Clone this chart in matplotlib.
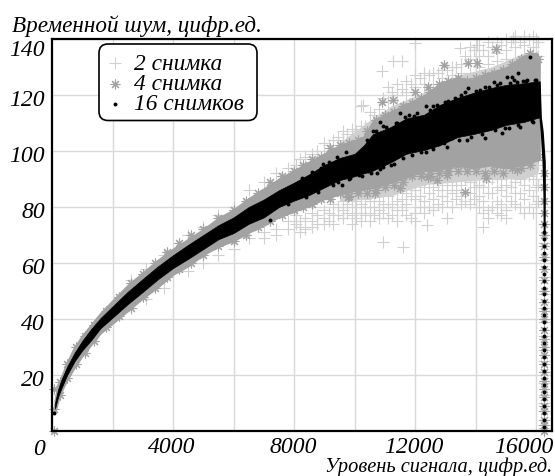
import matplotlib
matplotlib.use("Agg")
from matplotlib import pyplot as plt
from matplotlib.patches import FancyBboxPatch
from matplotlib.transforms import ScaledTranslation, IdentityTransform

plt.rcParams["font.family"] = ["Liberation Serif", "DejaVu Serif"]
plt.rcParams["font.style"] = "italic"

# values below. Where the marks merge into a solid
# band the band edges are stored, the loose marks around it are stored as points
band_x = [100, 200, 300, 500, 750, 1000, 1300, 1600, 2000, 2500, 3000, 3500, 4000, 4500, 5000, 5500, 6000,
          6500, 7000, 7500, 8000, 8500, 9000, 9500, 10000, 10300, 10600, 11200, 11700, 12300, 12800, 13400,
          13900, 14500, 15000, 15600, 16000, 16100]
black_high = [10, 14.8, 18, 23, 28, 32.2, 36.5, 40.3, 44.5, 49.7, 54.3, 58.8, 62.8, 66.5, 70, 73.5, 76.3,
              80, 82.7, 86, 88.7, 91.7, 95, 97.5, 99, 102, 106, 108.6, 111.6, 113, 116.4, 119,
              120.7, 122.5, 123.6, 124.2, 124.8, 124]
black_low = [8, 12.2, 15, 20, 25, 28.8, 32.5, 36.7, 40.5, 45.3, 49.7, 54.2, 58.2, 61.5, 65, 68.5, 70.7,
             74, 76.3, 80, 82.3, 84.3, 87, 89.6, 91, 92, 93, 96, 99, 100.4, 102, 105,
             106, 107.5, 109.3, 110.4, 111.7, 112]
gray_high = [11, 16, 19, 24.5, 30, 34, 38, 42, 46.5, 52, 56.5, 61, 65, 68.5, 72, 76, 79,
             83, 86.5, 90, 93, 96, 99, 102, 103.5, 105, 110.5, 114, 116.5, 119.7, 124, 126,
             125.4, 128, 129.7, 134, 135, 133]
gray_low = [7, 11, 14, 18.5, 23, 27, 31, 35, 38.5, 43, 47.5, 51.5, 56, 59, 63, 66, 68,
            71, 73.5, 76.5, 78.5, 80.5, 83, 84.6, 86, 86.5, 87, 88.9, 90.6, 93, 93.5, 94.9,
            94, 95, 94, 95.3, 96.7, 97]

light_x = [9500, 10500, 11200, 12300, 13400, 14500, 15600, 16050]
light_high = [103, 111, 116, 121, 127, 130, 135, 135]
light_low = [82, 83, 84, 88, 89, 90, 90, 92]

drop_y = [70, 84, 96, 107, 112, 118, 125]
drop_left = [16230, 16220, 16190, 16130, 16090, 16060, 16040]
drop_right = [16290, 16300, 16300, 16230, 16170, 16150, 16130]

plus_cols = [2600, 3100, 3700, 4500, 5000, 5500, 6000, 6500, 7000, 7400, 7800, 8200,
             8600, 9000, 9300, 9600, 9900, 10200, 10500, 10800, 11100, 11400, 11700, 12000, 12300, 12600,
             12900, 13200, 13500, 13800, 14100, 14400, 14700, 15000, 15300, 15600, 15900, 16050,
             8050, 8350, 8750, 9150, 9450, 9750, 10050, 10350, 10650, 10950, 11250, 11550, 11850, 12150, 12450,
             12750, 13050, 13350, 13650, 13950, 14250, 14550, 14850, 15150, 15450, 15750, 16000]
plus_vals = [[54, 44], [58, 47], [63, 51], [70, 57], [73, 60], [77, 63], [80, 65], [86, 69], [89, 71, 69],
             [92, 72, 70], [94, 75, 72],
             [97, 75, 73, 71], [99, 96, 78, 75, 73], [103, 100, 79, 76, 74], [104, 101, 81, 77, 74],
             [107, 104, 82, 79, 76], [108, 105, 83, 80, 77, 74], [109, 106, 116, 84, 81, 78, 75],
             [114, 110, 107, 85, 82, 78, 75], [115, 112, 109, 85, 82, 79, 76], [123, 118, 114, 87, 84, 80, 76],
             [124, 120, 116, 86, 82, 79, 75], [125, 121, 117, 88, 85, 81, 77], [127, 123, 119, 90, 86, 83, 78, 75],
             [128, 124, 120, 91, 87, 82, 78], [128, 124, 121, 90, 87, 83, 79], [129, 126, 122, 92, 88, 84, 80],
             [130, 127, 123, 91, 88, 85, 80], [131, 128, 125, 92, 88, 84, 81], [137, 133, 128, 92, 89, 85, 81],
             [138, 134, 130, 93, 88, 84, 80], [139, 134, 131, 92, 89, 85, 79, 76], [139, 135, 132, 91, 87, 82, 78],
             [140, 136, 133, 92, 88, 84, 79, 76], [141, 137, 133, 92, 89, 85, 81], [141, 138, 134, 93, 88, 83, 78],
             [141, 137, 133, 94, 90, 84, 78], [139, 134, 95, 88, 82],
             [95, 74, 77], [98, 76, 72], [100, 77, 74], [102, 78, 75], [105, 80, 77], [106, 81, 78],
             [107, 82, 78, 76], [109, 83, 80, 77], [113, 84, 80, 77], [119, 85, 81, 78], [121, 85, 81, 77],
             [122, 87, 83, 79], [124, 88, 84, 76], [126, 88, 84, 80], [127, 89, 85, 80],
             [128, 90, 86, 81], [129, 89, 86, 82], [130, 90, 86, 83], [134, 90, 85, 82], [136, 91, 87, 83],
             [136, 90, 87, 82, 78], [137, 90, 85, 80], [138, 90, 86, 81, 77], [139, 91, 87, 82],
             [139, 90, 85, 80], [140, 91, 86, 80], [140, 92, 87, 81]]
plus_out_x = [10930, 11610, 12380, 13040, 14250, 10890, 11280, 11560, 10290, 12000, 13480, 14040, 15240,
              16280, 16280, 16250, 16260, 16240, 16270, 16250, 16260, 16240, 16270, 16250, 16260, 16250,
              16240, 16260, 16250, 16270, 16250, 16260, 16240, 16250]
plus_out_y = [67.6, 65.8, 73.5, 76, 73, 128.7, 132, 132, 116.4, 138.5, 136.8, 138, 140.4,
              90, 82, 74, 67, 61, 55, 49, 44, 39, 34, 29, 25, 21, 17, 13, 10, 7, 4, 2, 1, 0]

star_cols = [250, 500, 800, 1100, 1400, 1800, 2200, 2600, 3000, 3400, 3800, 4200, 4600, 5000, 5500, 6000,
             6400, 6800, 7200, 7600, 8000, 8300, 8600,
             8900, 9200, 9500, 9800, 10100, 10400, 10700, 11000, 11300, 11600, 11900, 12200, 12500, 12800,
             13100, 13400, 13700, 14000, 14300, 14600, 14900, 15200, 15500, 15800, 16050]
star_vals = [[17.5, 13], [24, 19], [30, 24], [34, 28], [38, 32], [43, 37], [48, 41], [53, 44], [56, 48], [60, 51],
             [64, 55], [67, 58], [70, 60],
             [72, 63], [76, 66], [79, 68], [82, 70], [85, 73], [89, 75], [91, 77], [93, 79], [95, 80], [97, 81],
             [98, 83], [101, 83], [102, 85], [103, 86, 84], [104, 86, 85], [107, 87, 85], [111, 88, 86],
             [113, 89, 87], [114, 90, 88], [116, 91, 89], [117, 91], [119, 93, 91], [121, 93, 91], [124, 94, 92],
             [125, 94, 93], [126, 95, 93], [125, 95, 93], [126, 95, 93], [127, 96, 92], [128, 95, 93], [129, 95, 92],
             [131, 96, 94], [133, 96, 94], [135, 97, 95], [133, 98]]
star_out_x = [12950, 13750, 14030, 14660, 10890, 11260, 12430, 12000, 13650, 10670, 11500, 12430, 12710, 13040,
              14330, 15360, 9790, 60, 50, 50,
              16260, 16240, 16270, 16250, 16240, 16260, 16250, 16270, 16240, 16250, 16260, 16240, 16250, 16270,
              16240, 16260, 16250, 16240, 16260, 16250, 16270, 16250, 16240, 16260, 16250, 16240, 16260, 16250]
star_out_y = [130.7, 131.3, 131.4, 136.4, 117.6, 118.2, 122.9, 121.2, 85.5, 85, 86.8, 90.8, 89.6, 91.4,
              90.4, 93.2, 83.7, 15, 8, 0,
              92, 87, 82, 78, 74, 70, 66, 62, 58, 54, 50, 46, 43, 40, 36, 33, 30, 27, 24, 21, 18, 15, 12, 9, 7, 4, 2, 0]

dot_x = [15800, 15410, 15190, 15030, 14800, 14590, 14140, 13760, 12710, 12360, 11780, 11500, 10840,
         14310, 13700, 13210, 10730, 10950, 9850, 9570, 15470, 14970, 14860, 12950, 12200, 11200, 10450, 10150,
         9300, 8800, 8400, 7800, 7200, 9150, 8900, 8600, 8250, 15700, 15550, 15250, 14300, 13500, 13100, 12500,
         11950, 11400, 11050, 10600, 16000, 15900,
         8950, 9400, 9700, 10400, 10700, 10950, 11350, 11650, 12050, 12600, 13000, 13300, 13650,
         14000, 14450, 14700, 15120, 15350, 15650, 15950,
         9450, 9800, 10250, 10550, 10850, 11300, 11600, 11900, 12350, 12600, 13050,
         13450, 13850, 14200, 14650, 15100, 15400, 15850]
dot_y = [133.7, 127.7, 126.3, 126.3, 124.2, 124.5, 121.8, 122.4, 116.4, 116, 112.9, 113.5, 110.5,
         104.5, 104.1, 104.5, 92, 94.2, 90.2, 87.9, 108.7, 108.1, 106.3, 103, 99.5, 95, 93, 91.5,
         88, 85.5, 83.5, 81, 75.5, 96, 93.8, 92.5, 90.5, 125.5, 124.9, 125.2, 123, 120, 118, 114.5,
         112.5, 110, 108.5, 107, 125.5, 110.5,
         95.5, 98, 99.5, 104, 107, 109, 110, 112, 113.5, 116, 117.5, 119, 121,
         121.5, 123, 123.5, 124.2, 124.6, 125, 125.4,
         89, 90, 91, 92, 93.5, 95.5, 97.5, 98.5, 99.6, 100.8, 101.5,
         104, 105, 106, 107.5, 108.3, 109.2, 110.6]
column_dot_x = [16270, 16260, 16250, 16270, 16260, 16250, 16270, 16260, 16250, 16260, 16270, 16250, 16260, 16250,
                16260, 16250, 16270, 16260, 16250, 16260, 16250, 16260, 16250, 16260, 16250, 16260, 16250, 16260,
                16250, 16260, 60]
column_dot_y = [74, 71, 68.5, 66, 63.5, 61, 58.5, 56, 53.5, 51, 49, 46.5, 44, 41.5, 39,
                36.5, 34, 31.5, 29, 26.5, 24, 21.5, 19, 16.5, 14, 11.5, 9, 6.5, 4, 1.5, 6.5]

y_ticks = [0, 20, 40, 60, 80, 100, 120, 140]
x_ticks = [2000, 4000, 6000, 8000, 10000, 12000, 14000, 16000]
x_labels = ["", "4000", "", "8000", "", "12000", "", "16000"]

LIGHT = "#d0d0d0"
GRAY = "#a2a2a2"

fig = plt.figure(figsize=(5.55, 4.76), dpi=100)
ax = fig.add_axes([52 / 555, 1 - 431 / 476, 500 / 555, 392 / 476])
ax.set_xlim(0, 16520)
ax.set_ylim(0, 140)

ax.grid(True, color="#d9d9d9", linewidth=1.0)
ax.set_axisbelow(True)

plus_x = [x for x, ys in zip(plus_cols, plus_vals) for _ in ys] + plus_out_x
plus_y = [y for ys in plus_vals for y in ys] + plus_out_y
star_x = [x for x, ys in zip(star_cols, star_vals) for _ in ys] + star_out_x
star_y = [y for ys in star_vals for y in ys] + star_out_y

ax.fill_between(light_x, light_low, light_high, color=LIGHT, linewidth=0, zorder=3)
h1 = ax.scatter(plus_x, plus_y, marker="+", s=85, linewidths=0.8, color=LIGHT, clip_on=False, zorder=3)
ax.fill_between(band_x, gray_low, gray_high, color=GRAY, linewidth=1.5, zorder=4)
h2 = ax.scatter(star_x, star_y, marker=(8, 2, 0), s=42, linewidths=0.8, color=GRAY, clip_on=False, zorder=4)
ax.fill_between(band_x, black_low, black_high, color="black", linewidth=0.5, zorder=5)
ax.fill_betweenx(drop_y, drop_left, drop_right, color="black", linewidth=0, zorder=5)
h3 = ax.scatter(dot_x + column_dot_x, dot_y + column_dot_y, marker="o", s=8, linewidths=0, color="black",
                clip_on=False, zorder=6)

ax.tick_params(length=0, labelsize=17, pad=0)
ax.set_xticks(x_ticks, x_labels)
ax.set_yticks(y_ticks, [str(v) for v in y_ticks])
for side in ax.spines:
    ax.spines[side].set_linewidth(1.6)
    ax.spines[side].set_zorder(7)

# labels sit off the gridlines in the original
px = 1 / fig.dpi
for value, label in zip(y_ticks, ax.get_yticklabels()):
    down = {0: 16, 140: 9}.get(value, 3)
    label.set_transform(label.get_transform() + ScaledTranslation(-7 * px, -down * px, fig.dpi_scale_trans))
for value, label in zip(x_ticks, ax.get_xticklabels()):
    left = 12 if value == 16000 else 1
    label.set_transform(label.get_transform() + ScaledTranslation(-left * px, -6 * px, fig.dpi_scale_trans))

fig.text(12 / 555, 1 - 32 / 476, "Временной шум, цифр.ед.", fontsize=16.7, ha="left", va="baseline")
fig.text(552 / 555, 1 - 472 / 476, "Уровень сигнала, цифр.ед.", fontsize=14.7, ha="right", va="baseline")

# frame drawn apart from the legend, it is wider than the entries need
frame = FancyBboxPatch((99, 476 - 120.5), 158, 76.5, boxstyle="round,pad=0,rounding_size=9",
                       transform=IdentityTransform(), facecolor="white", edgecolor="black", linewidth=1.2,
                       zorder=7.5, clip_on=False)
fig.add_artist(frame)
leg = ax.legend([h1, h2, h3], ["2 снимка", "4 снимка", "16 снимков"], loc="upper left",
                bbox_to_anchor=(43.5 / 500, 1 - 6 / 392), borderaxespad=0, fontsize=16.8, frameon=False,
                labelspacing=-0.04, handletextpad=0.32, handlelength=1.0, borderpad=0.35, scatterpoints=1)
leg.set_zorder(8)
leg.set_figure(fig)
ax.legend_ = None
fig.add_artist(leg)

fig.savefig("out.png", dpi=100)
